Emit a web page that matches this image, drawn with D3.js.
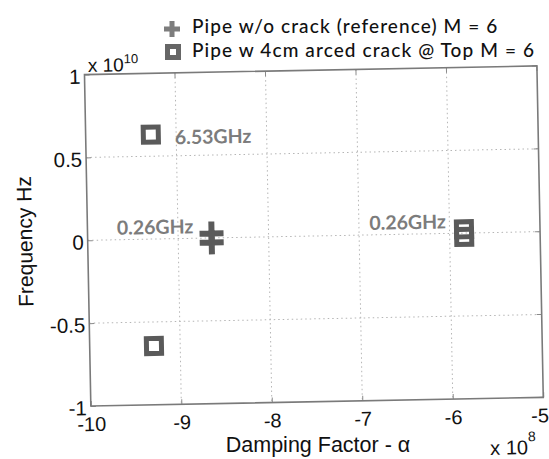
<!DOCTYPE html>
<html lang="en">
<head>
<meta charset="utf-8">
<title>Pole plot - pipe with and without crack</title>
<script src="https://d3js.org/d3.v7.min.js"></script>
<style>
  body { margin: 0; background: #fff; }
  .tick text { font-family: "Liberation Sans", Arial, sans-serif; fill: #111; }
  .ann { font-family: Lato, "Open Sans", sans-serif; font-weight: bold; fill: #7c7c7c; }
  .leg { font-family: Lato, "Open Sans", sans-serif; fill: #111; }
</style>
</head>
<body>
<script>
// damping factor in units of 1e8, frequency in units of 1e10
const refAlpha = [-8.63, -8.63];
const refFreq = [0.027, -0.027];
const crackAlpha = [-9.28, -9.29, -5.84, -5.84];
const crackFreq = [0.63, -0.645, 0.023, -0.023];

const xTicks = [-10, -9, -8, -7, -6, -5];
const xTickLabels = ["-10", "-9", "-8", "-7", "-6", "-5"];
const yTicks = [-1, -0.5, 0, 0.5, 1];
const yTickLabels = ["-1", "-0.5", "0", "0.5", "1"];

const annText = ["6.53GHz", "0.26GHz", "0.26GHz"];
const annAlpha = [-9.28, -8.63, -5.84];
const annFreq = [0.63, 0, 0];
const annSide = ["right", "left", "left"];

const legendLabels = ["Pipe w/o crack (reference) M = 6", "Pipe w 4cm arced crack @ Top M = 6"];

const w = 549, h = 459;
const markColor = "#5a5a5a";

const svg = d3.select("body").append("svg")
  .attr("width", w)
  .attr("height", h);

// the scanned figure sits slightly tilted
const root = svg.append("g").attr("transform", "rotate(-1.1 274 230)");

const x = d3.scaleLinear().domain([-10, -5]).range([87.5, 540]);
const y = d3.scaleLinear().domain([-1, 1]).range([402.5, 71]);

// dotted grid
root.append("g").selectAll("line")
  .data(xTicks.slice(1, -1)).enter().append("line")
  .attr("x1", d => x(d)).attr("x2", d => x(d))
  .attr("y1", y(1)).attr("y2", y(-1))
  .attr("stroke", "#b5b5b5").attr("stroke-width", 1).attr("stroke-dasharray", "1.5,3");
root.append("g").selectAll("line")
  .data(yTicks.slice(1, -1)).enter().append("line")
  .attr("y1", d => y(d)).attr("y2", d => y(d))
  .attr("x1", x(-10)).attr("x2", x(-5))
  .attr("stroke", "#b5b5b5").attr("stroke-width", 1).attr("stroke-dasharray", "1.5,3");

// axes, ticks inside like matlab
const xAxis = d3.axisBottom(x).tickValues(xTicks).tickFormat((d, i) => xTickLabels[i])
  .tickSizeInner(-5).tickSizeOuter(0);
const yAxis = d3.axisLeft(y).tickValues(yTicks).tickFormat((d, i) => yTickLabels[i])
  .tickSizeInner(-5).tickSizeOuter(0);

const gx = root.append("g").attr("transform", "translate(0," + y(-1) + ")").call(xAxis);
gx.selectAll(".tick text").attr("y", 0).attr("dy", 25).style("font-size", "20px")
  .attr("dx", (d, i) => i === xTicks.length - 1 ? -4 : 0);
gx.select(".domain").remove();
gx.selectAll(".tick line").attr("stroke", "#8a8a8a");

const gy = root.append("g").attr("transform", "translate(" + x(-10) + ",0)").call(yAxis);
gy.selectAll(".tick text").attr("x", -4).attr("dy", "0.42em").style("font-size", "20.5px");
gy.select(".domain").remove();
gy.selectAll(".tick line").attr("stroke", "#8a8a8a");

// top / right ticks
root.append("g").selectAll("line")
  .data(xTicks).enter().append("line")
  .attr("x1", d => x(d)).attr("x2", d => x(d))
  .attr("y1", y(1)).attr("y2", y(1) + 5).attr("stroke", "#8a8a8a");
root.append("g").selectAll("line")
  .data(yTicks).enter().append("line")
  .attr("y1", d => y(d)).attr("y2", d => y(d))
  .attr("x1", x(-5)).attr("x2", x(-5) - 5).attr("stroke", "#8a8a8a");

// frame
root.append("rect")
  .attr("x", x(-10)).attr("y", y(1))
  .attr("width", x(-5) - x(-10)).attr("height", y(-1) - y(1))
  .attr("fill", "none").attr("stroke", "#7a7a7a").attr("stroke-width", 1.6);

// exponent labels
const expY = root.append("text")
  .attr("x", 91).attr("y", 68.5)
  .style("font-family", "Liberation Sans, Arial, sans-serif").style("font-size", "19px").attr("fill", "#111");
expY.append("tspan").text("x 10");
expY.append("tspan").attr("dy", -8).style("font-size", "13px").text("10");

const expX = root.append("text")
  .attr("x", 486).attr("y", 459)
  .style("font-family", "Liberation Sans, Arial, sans-serif").style("font-size", "20px").attr("fill", "#111");
expX.append("tspan").text("x 10");
expX.append("tspan").attr("dy", -13).style("font-size", "14px").text("8");

// axis titles (long texts kept level so their boxes stay tight)
svg.append("text")
  .attr("x", 318).attr("y", 452)
  .attr("text-anchor", "middle")
  .style("font-family", "Liberation Sans, Arial, sans-serif").style("font-size", "21.5px").attr("fill", "#111")
  .text("Damping Factor - \u03b1");

root.append("text")
  .attr("transform", "translate(32," + (y(0)) + ") rotate(-90)")
  .attr("text-anchor", "middle")
  .style("font-family", "Liberation Sans, Arial, sans-serif").style("font-size", "21px").attr("fill", "#111")
  .text("Frequency Hz");

// markers
const plusPath = (cx, cy, r) => "M" + (cx - r) + "," + cy + "H" + (cx + r) + "M" + cx + "," + (cy - r) + "V" + (cy + r);

const refPts = refAlpha.map((a, i) => ({a: a, f: refFreq[i]}));
const crackPts = crackAlpha.map((a, i) => ({a: a, f: crackFreq[i]}));

root.append("g").selectAll("path")
  .data(refPts).enter().append("path")
  .attr("d", d => plusPath(x(d.a), y(d.f), 12))
  .attr("stroke", markColor).attr("stroke-width", 6).attr("fill", "none");

root.append("g").selectAll("rect")
  .data(crackPts).enter().append("rect")
  .attr("x", d => x(d.a) - 7.5).attr("y", d => y(d.f) - 7.5)
  .attr("width", 15).attr("height", 15)
  .attr("fill", "none").attr("stroke", markColor).attr("stroke-width", 5);

// annotations
root.append("g").selectAll("text")
  .data(annText).enter().append("text")
  .attr("class", "ann")
  .attr("x", (d, i) => annSide[i] === "right" ? x(annAlpha[i]) + 24 : x(annAlpha[i]) - 18)
  .attr("y", (d, i) => annSide[i] === "right" ? y(annFreq[i]) + 10 : y(annFreq[i]) - 5)
  .attr("text-anchor", (d, i) => annSide[i] === "right" ? "start" : "end")
  .style("font-size", "19.5px")
  .text(d => d);

// legend
const leg = svg.append("g");
leg.append("path")
  .attr("d", plusPath(172, 29, 8))
  .attr("stroke", "#7d7d7d").attr("stroke-width", 5).attr("fill", "none");
leg.append("rect")
  .attr("x", 167.5).attr("y", 46.5).attr("width", 11).attr("height", 11)
  .attr("fill", "none").attr("stroke", "#666").attr("stroke-width", 5);
leg.selectAll("text")
  .data(legendLabels).enter().append("text")
  .attr("class", "leg")
  .attr("x", 192)
  .attr("y", (d, i) => 33 + i * 23.5)
  .style("font-size", "19px")
  .style("font-weight", 500)
  .style("letter-spacing", "1.1px")
  .text(d => d);
</script>
</body>
</html>
